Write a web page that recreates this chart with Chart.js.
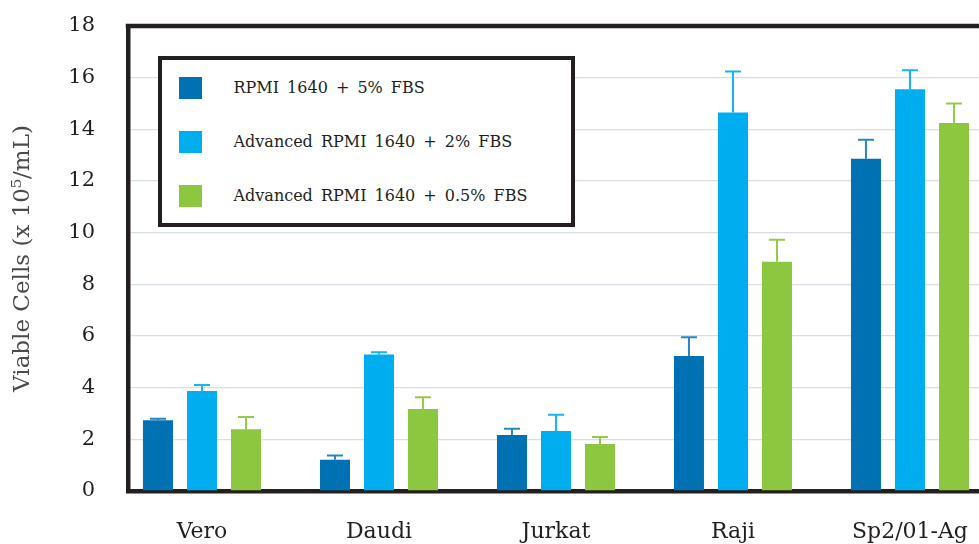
<!DOCTYPE html>
<html>
<head>
<meta charset="utf-8">
<script src="https://cdn.jsdelivr.net/npm/chart.js@4.4.1/dist/chart.umd.min.js"></script>
<style>
  html, body { margin: 0; padding: 0; background: #ffffff; }
  #wrap { position: relative; width: 979px; height: 544px; overflow: hidden; }
  #c { position: absolute; left: 0; top: 0; }
  #legend {
    position: absolute; left: 158px; top: 56px; width: 417px; height: 171px;
    box-sizing: border-box; border: 4.5px solid #231f20; background: #ffffff;
    font-family: "DejaVu Serif", serif; font-size: 16px; color: #231f20;
  }
  .item { position: absolute; left: 16.5px; height: 22px; display: flex; align-items: center; }
  .sw { width: 23px; height: 22px; }
  .lbl { margin-left: 32px; white-space: nowrap; word-spacing: 3px; }
</style>
</head>
<body>
<div id="wrap">
  <canvas id="c" width="979" height="544" style="width:979px;height:544px"></canvas>
  <div id="legend"></div>
</div>
<script>
const categories = ["Vero", "Daudi", "Jurkat", "Raji", "Sp2/01-Ag"];
const seriesLabels = ["RPMI 1640 + 5% FBS", "Advanced RPMI 1640 + 2% FBS", "Advanced RPMI 1640 + 0.5% FBS"];
const rpmi5 = [2.74, 1.21, 2.17, 5.23, 12.86];
const rpmi5Err = [0.06, 0.16, 0.24, 0.72, 0.74];
const adv2 = [3.87, 5.28, 2.32, 14.65, 15.55];
const adv2Err = [0.23, 0.09, 0.63, 1.59, 0.74];
const adv05 = [2.39, 3.17, 1.82, 8.87, 14.25];
const adv05Err = [0.47, 0.46, 0.27, 0.86, 0.75];
const yTicks = [0, 2, 4, 6, 8, 10, 12, 14, 16, 18];

const colors = ["#0071b3", "#00aeef", "#8dc63f"];
const errColors = ["#2a85c4", "#19b4ef", "#95ca4a"];
const seriesValues = [rpmi5, adv2, adv05];
const seriesErrs = [rpmi5Err, adv2Err, adv05Err];

const DARK = "#231f20";
const FONT = "DejaVu Serif";

const errorBars = {
  id: "errorBars",
  afterDatasetsDraw(chart) {
    const ctx = chart.ctx;
    const y = chart.scales.y;
    chart.data.datasets.forEach((ds, d) => {
      const meta = chart.getDatasetMeta(d);
      ctx.save();
      ctx.strokeStyle = errColors[d];
      ctx.lineWidth = 2;
      meta.data.forEach((el, i) => {
        const top = y.getPixelForValue(seriesValues[d][i] + seriesErrs[d][i]);
        ctx.beginPath();
        ctx.moveTo(el.x, el.y);
        ctx.lineTo(el.x, top);
        ctx.moveTo(el.x - 8, top);
        ctx.lineTo(el.x + 8, top);
        ctx.stroke();
      });
      ctx.restore();
    });
  }
};

const topFrame = {
  id: "topFrame",
  afterDraw(chart) {
    const a = chart.chartArea;
    const ctx = chart.ctx;
    ctx.save();
    ctx.strokeStyle = DARK;
    ctx.lineWidth = 4.5;
    ctx.beginPath();
    ctx.moveTo(a.left - 2.25, a.top);
    ctx.lineTo(a.right, a.top);
    ctx.stroke();
    ctx.restore();
  }
};

const chart = new Chart(document.getElementById("c"), {
  type: "bar",
  data: {
    datasets: seriesLabels.map((lab, d) => ({
      label: lab,
      data: seriesValues[d].map((v, i) => ({ x: i, y: v })),
      backgroundColor: colors[d],
      borderWidth: 0,
      categoryPercentage: 0.746,
      barPercentage: 0.682
    }))
  },
  options: {
    responsive: false,
    devicePixelRatio: 1,
    animation: false,
    events: [],
    layout: { padding: { left: 0, right: 0, top: 26, bottom: 0 } },
    plugins: { legend: { display: false }, tooltip: { enabled: false } },
    scales: {
      x: {
        type: "linear",
        offset: false,
        min: -0.418,
        max: 4.39,
        grid: { display: false, drawTicks: false, offset: false },
        border: { display: true, color: DARK, width: 4.5 },
        afterBuildTicks(scale) { scale.ticks = categories.map((_, i) => ({ value: i })); },
        afterFit(scale) { scale.height = 53; scale.paddingLeft = 0; scale.paddingRight = 0; },
        ticks: {
          autoSkip: false,
          maxRotation: 0,
          padding: 28,
          color: DARK,
          font: { family: FONT, size: 22 },
          callback: (v) => categories[v]
        }
      },
      y: {
        min: 0,
        max: 18,
        afterBuildTicks(scale) { scale.ticks = yTicks.map(v => ({ value: v })); },
        afterFit(scale) { scale.width = 128; scale.paddingTop = 0; scale.paddingBottom = 0; },
        grid: { color: "#d9dfe4", lineWidth: 1.3, drawTicks: false },
        border: { display: true, color: DARK, width: 4.5 },
        ticks: {
          padding: 33,
          color: DARK,
          font: { family: FONT, size: 21 }
        },
        title: {
          display: true,
          text: "Viable Cells (x 10\u2075/mL)",
          color: "#4a4a4a",
          font: { family: FONT, size: 23 },
          padding: { top: 9, bottom: 0 }
        }
      }
    }
  },
  plugins: [errorBars, topFrame]
});

const legend = document.getElementById("legend");
const rowTops = [16.5, 70.5, 124.5];
chart.data.datasets.forEach((ds, d) => {
  const item = document.createElement("div");
  item.className = "item";
  item.style.top = rowTops[d] + "px";
  const sw = document.createElement("div");
  sw.className = "sw";
  sw.style.background = ds.backgroundColor;
  const lbl = document.createElement("span");
  lbl.className = "lbl";
  lbl.textContent = ds.label;
  item.appendChild(sw);
  item.appendChild(lbl);
  legend.appendChild(item);
});
</script>
</body>
</html>
